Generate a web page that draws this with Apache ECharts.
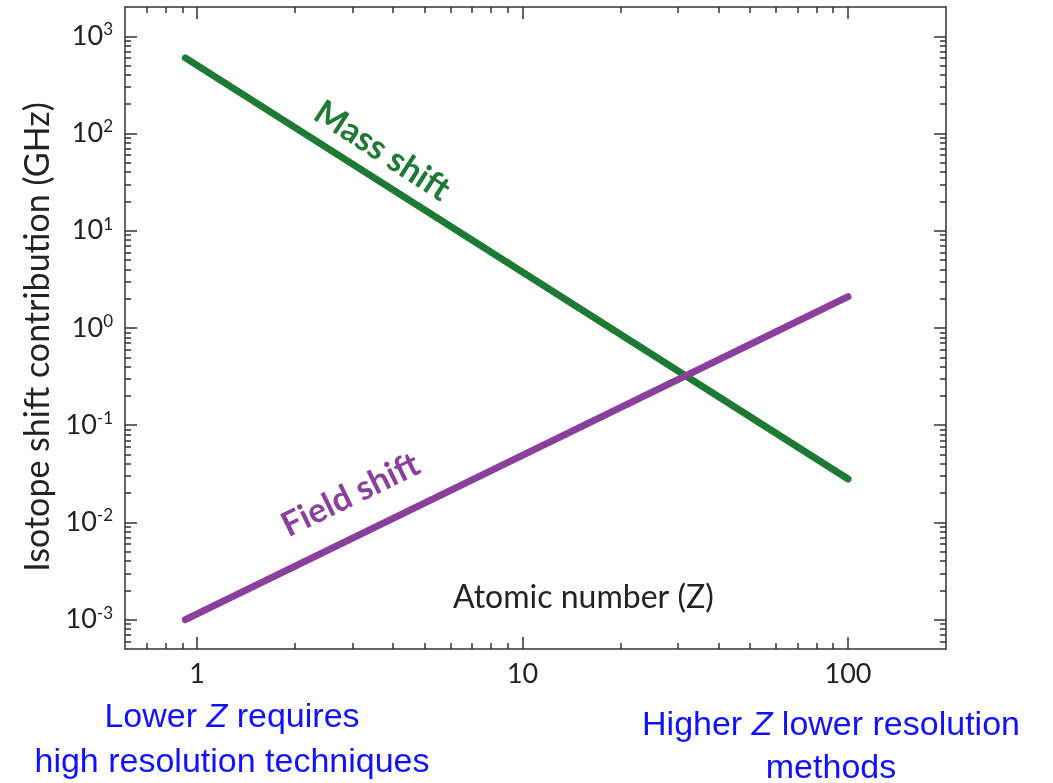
<!DOCTYPE html>
<html>
<head>
<meta charset="utf-8">
<script src="https://cdn.jsdelivr.net/npm/echarts@6/dist/echarts.min.js"></script>
<style>
  html, body { margin: 0; padding: 0; background: #fff; }
  #chart { width: 1053px; height: 783px; }
</style>
</head>
<body>
<div id="chart"></div>
<script>
// data
const massZ = [0.92, 100];
const massShift = [600, 0.028];
const fieldZ = [0.92, 100];
const fieldShift = [0.001, 2.1];

// tick values
const xMajorTicks = [1, 10, 100];
const xMinorTicks = [0.7, 0.8, 0.9, 2, 3, 4, 5, 6, 7, 8, 9, 20, 30, 40, 50, 60, 70, 80, 90];
const yMajorTicks = [0.001, 0.01, 0.1, 1, 10, 100, 1000];
const yMinorTicks = [
  0.0006, 0.0007, 0.0008, 0.0009,
  0.002, 0.003, 0.004, 0.005, 0.006, 0.007, 0.008, 0.009,
  0.02, 0.03, 0.04, 0.05, 0.06, 0.07, 0.08, 0.09,
  0.2, 0.3, 0.4, 0.5, 0.6, 0.7, 0.8, 0.9,
  2, 3, 4, 5, 6, 7, 8, 9,
  20, 30, 40, 50, 60, 70, 80, 90,
  200, 300, 400, 500, 600, 700, 800, 900
];

const AX = '#333';
const FONT = 'Lato';
const BLUE = '#1010ff';

function xAxisOf(position, major, showLine, showLabel) {
  return {
    type: 'log',
    position: position,
    min: 0.6,
    max: 200,
    axisLine: { show: showLine, onZero: false, lineStyle: { color: AX, width: 1.5 } },
    axisTick: {
      show: true, inside: true, length: major ? 12 : 6,
      customValues: major ? xMajorTicks : xMinorTicks,
      lineStyle: { color: AX, width: 1.5 }
    },
    axisLabel: {
      show: showLabel, customValues: xMajorTicks, margin: 12,
      fontFamily: FONT, fontSize: 27, color: '#222',
      formatter: (v) => String(Math.round(v))
    },
    splitLine: { show: false },
    minorTick: { show: false }
  };
}

function yAxisOf(position, major, showLine, showLabel) {
  return {
    type: 'log',
    position: position,
    min: 0.0005,
    max: 2000,
    axisLine: { show: showLine, onZero: false, lineStyle: { color: AX, width: 1.5 } },
    axisTick: {
      show: true, inside: true, length: major ? 12 : 6,
      customValues: major ? yMajorTicks : yMinorTicks,
      lineStyle: { color: AX, width: 1.5 }
    },
    axisLabel: {
      show: showLabel, customValues: yMajorTicks, margin: 12,
      formatter: (v) => '{b|10}{s|' + Math.round(Math.log10(v)) + '}',
      rich: {
        b: { fontFamily: FONT, fontSize: 27, color: '#222', lineHeight: 30, verticalAlign: 'middle' },
        s: { fontFamily: FONT, fontSize: 17, color: '#222', lineHeight: 30, verticalAlign: 'top' }
      }
    },
    splitLine: { show: false },
    minorTick: { show: false }
  };
}

const yMain = yAxisOf('left', true, true, true);
yMain.name = 'Isotope shift contribution (GHz)';
yMain.nameLocation = 'middle';
yMain.nameGap = 70;
yMain.nameTextStyle = { fontFamily: FONT, fontSize: 34, color: '#222', padding: [0, 18, 0, 0] };

const chart = echarts.init(document.getElementById('chart'), null, { renderer: 'canvas' });

const option = {
  backgroundColor: '#fff',
  animation: false,
  grid: { left: 125, right: 107, top: 7, bottom: 134, containLabel: false },
  xAxis: [
    xAxisOf('bottom', true, true, true),
    xAxisOf('bottom', false, false, false),
    xAxisOf('top', true, true, false),
    xAxisOf('top', false, false, false)
  ],
  yAxis: [
    yMain,
    yAxisOf('left', false, false, false),
    yAxisOf('right', true, true, false),
    yAxisOf('right', false, false, false)
  ],
  series: [
    {
      name: 'Mass shift',
      type: 'line',
      xAxisIndex: 0,
      yAxisIndex: 0,
      data: massZ.map((z, i) => [z, massShift[i]]),
      showSymbol: false,
      symbol: 'none',
      lineStyle: { color: '#1c7a33', width: 7, cap: 'round' },
      markPoint: {
        symbol: 'circle',
        symbolSize: 0,
        data: [{ coord: [3.7, 66] }],
        label: {
          show: true, position: 'inside', formatter: 'Mass shift', rotate: -33,
          fontFamily: FONT, fontWeight: 'bold', fontSize: 34, color: '#1c7a33'
        }
      }
    },
    {
      name: 'Field shift',
      type: 'line',
      xAxisIndex: 0,
      yAxisIndex: 0,
      data: fieldZ.map((z, i) => [z, fieldShift[i]]),
      showSymbol: false,
      symbol: 'none',
      lineStyle: { color: '#8b3f9c', width: 7, cap: 'round' },
      markPoint: {
        symbol: 'circle',
        symbolSize: 0,
        data: [{ coord: [2.96, 0.0192] }],
        label: {
          show: true, position: 'inside', formatter: 'Field shift', rotate: 26,
          fontFamily: FONT, fontWeight: 'bold', fontSize: 34, color: '#8b3f9c'
        }
      }
    }
  ],
  graphic: [
    {
      type: 'text', left: 453, top: 582,
      style: { text: 'Atomic number (Z)', fontFamily: FONT, fontSize: 32, fill: '#222' }
    },
    {
      type: 'text', x: 232, y: 695,
      style: {
        text: '{n|Lower }{i|Z}{n| requires}\n{n|high resolution techniques}',
        align: 'center', verticalAlign: 'top',
        rich: {
          n: { fontFamily: 'Liberation Sans', fontSize: 34, fill: BLUE, lineHeight: 45 },
          i: { fontFamily: 'Liberation Sans', fontSize: 34, fontStyle: 'italic', fill: BLUE, lineHeight: 45 }
        }
      }
    },
    {
      type: 'text', x: 831, y: 704,
      style: {
        text: '{n|Higher }{i|Z}{n| lower resolution}\n{n|methods}',
        align: 'center', verticalAlign: 'top',
        rich: {
          n: { fontFamily: 'Liberation Sans', fontSize: 34, fill: BLUE, lineHeight: 43 },
          i: { fontFamily: 'Liberation Sans', fontSize: 34, fontStyle: 'italic', fill: BLUE, lineHeight: 43 }
        }
      }
    }
  ]
};

chart.setOption(option);
</script>
</body>
</html>
